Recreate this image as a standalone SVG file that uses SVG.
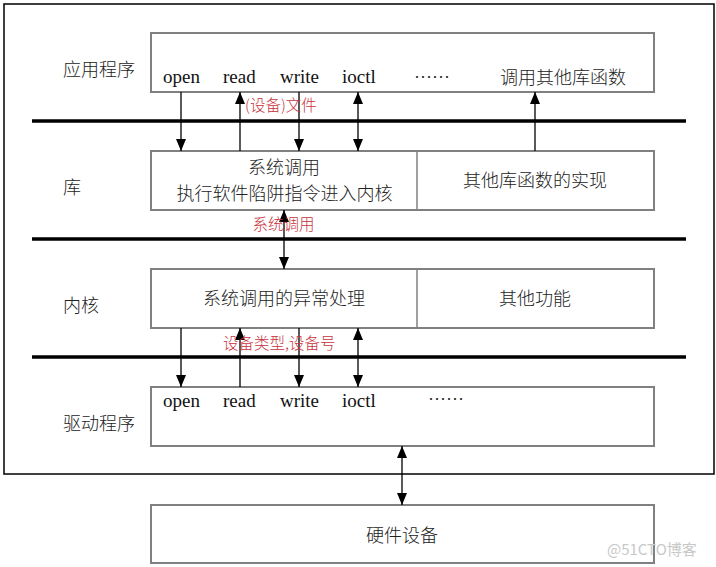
<svg xmlns="http://www.w3.org/2000/svg" width="716" height="567" viewBox="0 0 716 567">
<style>
.box{fill:#fff;stroke:#808080;stroke-width:2}
.sep{stroke:#000;stroke-width:3.5}
.arr{stroke:#000;stroke-width:1.3;fill:none}
.lat{font-family:"Liberation Serif",serif;font-size:19px;fill:#111}
.cjk{font-family:"Noto Sans CJK SC",sans-serif;font-size:18px;font-weight:300;fill:#222}
.red{font-family:"Noto Sans CJK SC",sans-serif;font-size:15.5px;font-weight:300;fill:#c8323c}
.mid{text-anchor:middle}
</style>
<defs>
<marker id="ah" viewBox="0 0 12 10" refX="12" refY="5" markerWidth="12" markerHeight="10" markerUnits="userSpaceOnUse" orient="auto-start-reverse">
<path d="M0,0 L12,5 L0,10 z" fill="#000"/>
</marker>
</defs>
<rect x="4" y="4" width="710" height="470" fill="#fff" stroke="#000" stroke-width="1.5"/>
<g id="separators">
<line class="sep" x1="32" y1="121" x2="686" y2="121"/>
<line class="sep" x1="32" y1="239" x2="686" y2="239"/>
<line class="sep" x1="32" y1="357" x2="686" y2="357"/>
</g>
<g id="layer-labels">
<text class="cjk" x="63" y="76">应用程序</text>
<text class="cjk" x="63" y="194">库</text>
<text class="cjk" x="63" y="312">内核</text>
<text class="cjk" x="63" y="430">驱动程序</text>
</g>
<g id="app">
<rect class="box" x="151" y="33" width="503" height="59"/>
<text class="lat" x="163" y="83">open</text>
<text class="lat" x="223" y="83">read</text>
<text class="lat" x="280" y="83">write</text>
<text class="lat" x="342" y="83">ioctl</text>
<text class="cjk" x="414" y="84">……</text>
<text class="cjk" x="500" y="84">调用其他库函数</text>
</g>
<g id="lib">
<rect class="box" x="151" y="151" width="503" height="59"/>
<line x1="417" y1="151" x2="417" y2="210" stroke="#808080" stroke-width="1.5"/>
<text class="cjk mid" x="284" y="173.5">系统调用</text>
<text class="cjk mid" x="284.5" y="199.5">执行软件陷阱指令进入内核</text>
<text class="cjk mid" x="535" y="186.5">其他库函数的实现</text>
</g>
<g id="kernel">
<rect class="box" x="151" y="269" width="503" height="59"/>
<line x1="417" y1="269" x2="417" y2="328" stroke="#808080" stroke-width="1.5"/>
<text class="cjk mid" x="284" y="304.5">系统调用的异常处理</text>
<text class="cjk mid" x="535" y="304.5">其他功能</text>
</g>
<g id="driver">
<rect class="box" x="151" y="387" width="503" height="59"/>
<text class="lat" x="163" y="407">open</text>
<text class="lat" x="223" y="407">read</text>
<text class="lat" x="280" y="407">write</text>
<text class="lat" x="342" y="407">ioctl</text>
<text class="cjk" x="428" y="406">……</text>
</g>
<g id="hardware">
<rect class="box" x="151" y="505" width="503" height="58"/>
<text class="cjk mid" x="402" y="541.5">硬件设备</text>
</g>
<g id="connectors">
<line class="arr" x1="181" y1="92" x2="181" y2="151" marker-end="url(#ah)"/>
<line class="arr" x1="240" y1="151" x2="240" y2="92" marker-end="url(#ah)"/>
<line class="arr" x1="299" y1="92" x2="299" y2="151" marker-end="url(#ah)"/>
<line class="arr" x1="358" y1="92" x2="358" y2="151" marker-start="url(#ah)" marker-end="url(#ah)"/>
<line class="arr" x1="535" y1="151" x2="535" y2="92" marker-end="url(#ah)"/>
<line class="arr" x1="284" y1="210" x2="284" y2="269" marker-start="url(#ah)" marker-end="url(#ah)"/>
<line class="arr" x1="181" y1="328" x2="181" y2="387" marker-end="url(#ah)"/>
<line class="arr" x1="240" y1="387" x2="240" y2="328" marker-end="url(#ah)"/>
<line class="arr" x1="299" y1="328" x2="299" y2="387" marker-end="url(#ah)"/>
<line class="arr" x1="358" y1="328" x2="358" y2="387" marker-start="url(#ah)" marker-end="url(#ah)"/>
<line class="arr" x1="402" y1="446" x2="402" y2="505" marker-start="url(#ah)" marker-end="url(#ah)"/>
<text class="red" x="245" y="111">(设备)文件</text>
<text class="red mid" x="283.5" y="230">系统调用</text>
<text class="red" x="223" y="349">设备类型,设备号</text>
</g>
<text x="607" y="555" font-family="Noto Sans CJK SC,sans-serif" font-size="15" fill="#c8c8c8">@51CTO博客</text>
</svg>
